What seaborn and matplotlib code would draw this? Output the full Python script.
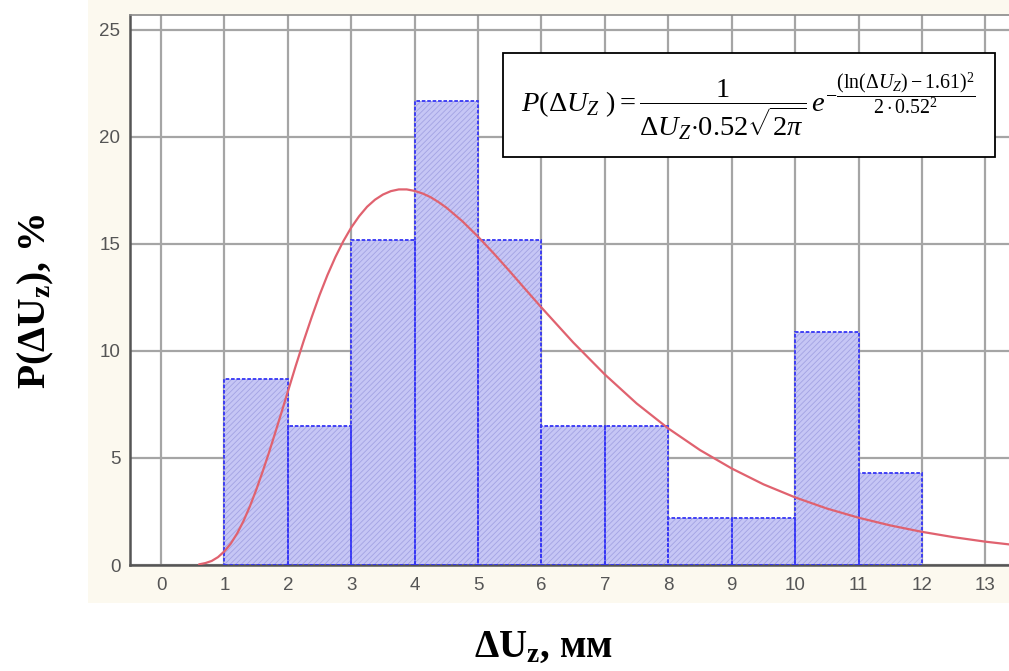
import numpy as np
import pandas as pd
import matplotlib
matplotlib.use("Agg")
import matplotlib.pyplot as plt
from matplotlib.patches import Rectangle
import seaborn as sns

# ---------------- data ----------------
bin_edges = [1, 2, 3, 4, 5, 6, 7, 8, 9, 10, 11, 12]
bin_percent = [8.7, 6.5, 15.2, 21.7, 15.2, 6.5, 6.5, 2.2, 2.2, 10.9, 4.3]

curve_x = [0.6, 0.7, 0.8, 0.9, 1.0, 1.1, 1.2, 1.3, 1.4, 1.5, 1.6, 1.7, 1.8,
           1.9, 2.0, 2.125, 2.25, 2.375, 2.5, 2.625, 2.75, 2.875, 3.0, 3.125,
           3.25, 3.375, 3.5, 3.625, 3.75, 3.875, 4.0, 4.125, 4.25, 4.375,
           4.5, 4.75, 5.0, 5.25, 5.5, 5.75, 6.0, 6.5, 7.0, 7.5, 8.0, 8.5,
           9.0, 9.5, 10.0, 10.5, 11.0, 11.5, 12.0, 12.5, 13.0, 13.5]
curve_y = [0.03, 0.09, 0.19, 0.37, 0.64, 1.00, 1.47, 2.05, 2.73, 3.50, 4.34,
           5.23, 6.17, 7.13, 8.10, 9.31, 10.47, 11.57, 12.61, 13.55, 14.39,
           15.13, 15.77, 16.30, 16.74, 17.07, 17.31, 17.47, 17.55, 17.55,
           17.48, 17.36, 17.19, 16.96, 16.70, 16.07, 15.34, 14.55, 13.72,
           12.87, 12.03, 10.40, 8.90, 7.55, 6.38, 5.37, 4.51, 3.77, 3.16,
           2.64, 2.21, 1.85, 1.55, 1.30, 1.09, 0.92]

x_ticks = list(range(0, 14))
y_ticks = [0, 5, 10, 15, 20, 25]

formula = (r"$P(\Delta U_Z\ ) = \dfrac{1}{\Delta U_Z{\cdot}0.52\sqrt{2\pi}}\,"
           r"e^{-\dfrac{(\ln(\Delta U_Z)-1.61)^2}{2\cdot 0.52^2}}$")
xlabel = r"$\mathbf{\Delta U_z}$, мм"
ylabel = r"$\mathbf{P(\Delta U_z)}$, %"

# ---------------- style ----------------
sns.set_theme(style="white")
plt.rcParams["font.family"] = ["Liberation Sans", "DejaVu Sans"]
plt.rcParams["mathtext.fontset"] = "custom"
plt.rcParams["mathtext.rm"] = "Liberation Serif"
plt.rcParams["mathtext.it"] = "Liberation Serif:italic"
plt.rcParams["mathtext.bf"] = "Liberation Serif:bold"
plt.rcParams["hatch.linewidth"] = 0.6

fig = plt.figure(figsize=(10.09, 6.71), dpi=100, facecolor="white")
# cream panel behind the plot area
fig.patches.append(Rectangle((88 / 1009, 68 / 671), 1 - 88 / 1009, 1 - 68 / 671,
                             transform=fig.transFigure, facecolor="#fcf9ef",
                             edgecolor="none", zorder=-10))

ax = fig.add_axes([130 / 1009, 106 / 671, (1012 - 130) / 1009, (565 - 15) / 671])
ax.set_facecolor("white")
ax.set_axisbelow(True)

centers = [e + 0.5 for e in bin_edges[:-1]]
df = pd.DataFrame({"x": centers, "w": bin_percent})

# hatched fill
sns.histplot(data=df, x="x", weights="w", bins=bin_edges, stat="count",
             ax=ax, color="#c6c6f5", alpha=1.0, hatch="//////",
             edgecolor="#a3a3e3", linewidth=0, zorder=2)
# dotted blue outlines
sns.histplot(data=df, x="x", weights="w", bins=bin_edges, stat="count",
             ax=ax, fill=False, element="bars", color="#3535f5",
             linewidth=1.3, linestyle=(0, (2, 1)), zorder=3)

cdf = pd.DataFrame({"x": curve_x, "y": curve_y})
sns.lineplot(data=cdf, x="x", y="y", ax=ax, color="#e0626f", lw=1.6, zorder=4)

ax.set_xlim(-0.489, 13.42)
ax.set_ylim(0, 25.7)
ax.set_xticks(x_ticks)
ax.set_yticks(y_ticks)
ax.set_xticklabels([str(t) for t in x_ticks])
ax.set_yticklabels([str(t) for t in y_ticks])
ax.grid(True, color="#a5a5a5", lw=1.6)
ax.tick_params(axis="both", direction="in", length=3, width=1.2, color="#444444",
               labelcolor="#555555", labelsize=13.5, pad=7)
ax.tick_params(axis="x", pad=9)
ax.set_xlabel("")
ax.set_ylabel("")

for s in ["left", "bottom"]:
    ax.spines[s].set_color("#555555")
    ax.spines[s].set_linewidth(1.8)
ax.spines["top"].set_color("#8a8a8a")
ax.spines["top"].set_linewidth(1.2)
ax.spines["right"].set_visible(False)

# formula box
ax.add_patch(Rectangle((5.39, 19.07), 13.15 - 5.39, 23.93 - 19.07,
                       facecolor="white", edgecolor="black", lw=1.3, zorder=5))
ax.text((5.39 + 13.15) / 2, (19.07 + 23.93) / 2 - 0.1, formula, ha="center",
        va="center", fontsize=20.5, zorder=6, color="black")

fig.text(0.539, 0.036, xlabel, ha="center", va="center", fontsize=28,
         fontweight="bold", family=["Liberation Serif", "DejaVu Serif"], color="black")
fig.text(0.036, 0.551, ylabel, ha="center", va="center", fontsize=28.5,
         rotation=90, fontweight="bold",
         family=["Liberation Serif", "DejaVu Serif"], color="black")

fig.savefig("out.png", dpi=100, facecolor="white")
